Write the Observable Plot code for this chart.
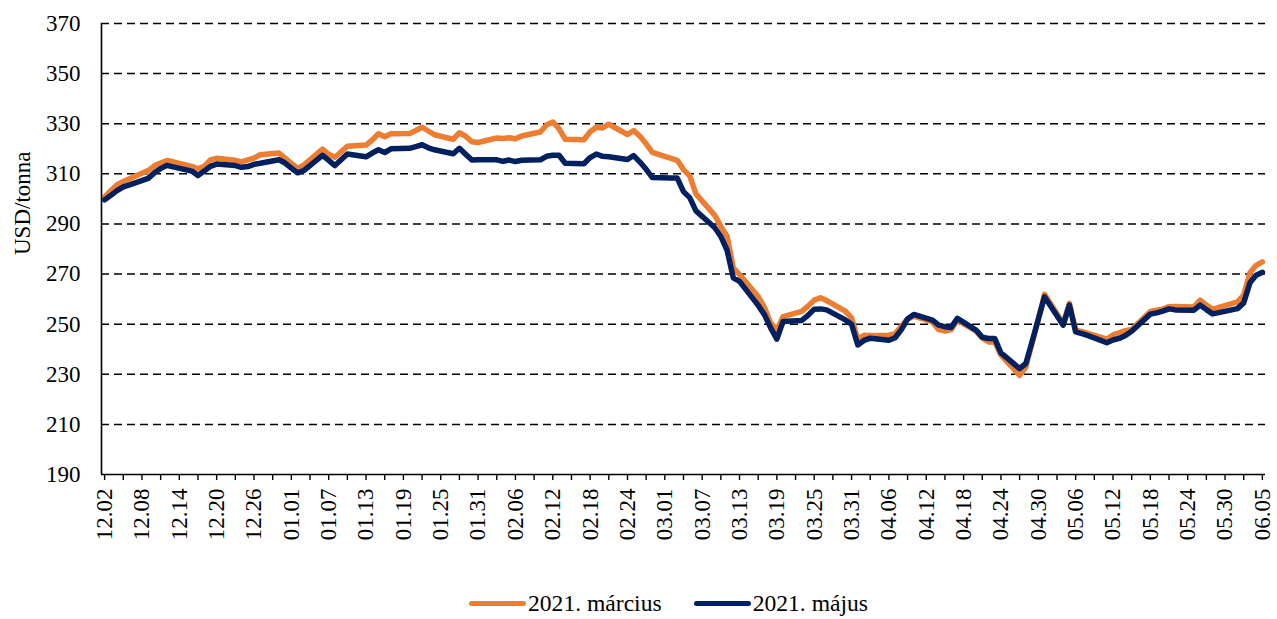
<!DOCTYPE html>
<html><head><meta charset="utf-8">
<script src="https://cdn.jsdelivr.net/npm/d3@7"></script>
<script src="https://cdn.jsdelivr.net/npm/@observablehq/plot@0.6"></script>
<style>
body{margin:0;background:#fff;font-family:"Liberation Serif","Times New Roman",serif;}
#legend{display:flex;justify-content:center;align-items:center;height:31px;font-size:23.6px;padding-left:60px;color:#000;}
.item{display:flex;align-items:center;margin:0 16px;}
.sw{width:57px;height:5px;border-radius:3px;margin-right:2px;}
</style></head><body>
<div id="chart"></div>
<div id="legend"></div>
<script>
const dates = [
"2019-12-02","2019-12-03","2019-12-04","2019-12-05","2019-12-06","2019-12-09","2019-12-10","2019-12-11","2019-12-12","2019-12-13",
"2019-12-16","2019-12-17","2019-12-18","2019-12-19","2019-12-20","2019-12-23","2019-12-24","2019-12-25","2019-12-26","2019-12-27",
"2019-12-30","2019-12-31",
"2020-01-01","2020-01-02","2020-01-03","2020-01-06","2020-01-07","2020-01-08","2020-01-09","2020-01-10","2020-01-13","2020-01-14",
"2020-01-15","2020-01-16","2020-01-17","2020-01-20","2020-01-21","2020-01-22","2020-01-23","2020-01-24","2020-01-27","2020-01-28",
"2020-01-29","2020-01-30","2020-01-31",
"2020-02-03","2020-02-04","2020-02-05","2020-02-06","2020-02-07","2020-02-10","2020-02-11","2020-02-12","2020-02-13","2020-02-14",
"2020-02-17","2020-02-18","2020-02-19","2020-02-20","2020-02-21","2020-02-24","2020-02-25","2020-02-26","2020-02-27","2020-02-28",
"2020-03-02","2020-03-03","2020-03-04","2020-03-05","2020-03-06","2020-03-09","2020-03-10","2020-03-11","2020-03-12","2020-03-13",
"2020-03-16","2020-03-17","2020-03-18","2020-03-19","2020-03-20","2020-03-23","2020-03-24","2020-03-25","2020-03-26","2020-03-27",
"2020-03-30","2020-03-31",
"2020-04-01","2020-04-02","2020-04-03","2020-04-06","2020-04-07","2020-04-08","2020-04-09","2020-04-10","2020-04-13","2020-04-14",
"2020-04-15","2020-04-16","2020-04-17","2020-04-20","2020-04-21","2020-04-22","2020-04-23","2020-04-24","2020-04-27","2020-04-28",
"2020-04-29","2020-04-30",
"2020-05-01","2020-05-04","2020-05-05","2020-05-06","2020-05-07","2020-05-08","2020-05-11","2020-05-12","2020-05-13","2020-05-14",
"2020-05-15","2020-05-18","2020-05-19","2020-05-20","2020-05-21","2020-05-22","2020-05-25","2020-05-26","2020-05-27","2020-05-28",
"2020-05-29",
"2020-06-01","2020-06-02","2020-06-03","2020-06-04","2020-06-05"
];
const marcius = [
300.8,303.3,305.7,306.9,308.0, 311.3,313.2,314.3,315.3,314.8, 313.0,312.0,313.0,315.6,316.2, 315.4,314.8,315.6,316.3,317.6, 318.3,316.3,
314.2,312.2,313.5, 319.9,317.8,316.6,318.8,321.0, 321.5,323.5,326.0,324.8,326.0, 326.1,327.3,328.6,327.1,325.6, 323.8,326.4,325.0,322.8,322.5,
324.3,324.1,324.4,324.0,325.1, 326.7,329.5,330.7,328.0,323.8, 323.6,326.8,328.6,328.3,329.8, 325.7,327.3,325.0,322.0,318.6,
316.2,315.4,311.7,309.2,302.0, 293.5,289.0,285.1,272.5,269.8, 261.0,256.7,250.5,247.7,253.0, 255.1,257.2,259.6,260.5,259.4, 255.2,252.5,
244.0,245.6,245.5, 245.6,246.2,249.2,252.1,253.2, 250.9,247.8,247.3,247.8,251.6, 247.2,244.4,242.9,242.9,237.6, 229.6,233.0,242.5,252.0,
261.9, 250.3,258.3,247.6,247.0,246.3, 244.0,245.7,246.5,247.4,247.9, 255.1,255.6,256.0,257.0,257.1, 256.9,259.6,257.6,255.9,256.7,
258.9,261.6,270.5,273.5,274.9
];
const majus = [
299.6,301.4,303.3,304.8,305.6, 308.2,310.4,312.1,313.4,312.8, 311.1,309.3,311.1,313.0,313.9, 313.3,312.6,312.9,313.8,314.2, 315.6,314.3,
312.3,310.4,311.3, 317.4,315.4,313.3,315.6,317.9, 316.8,318.3,319.6,318.5,320.0, 320.2,320.9,321.6,320.4,319.6, 318.0,320.2,317.8,315.5,315.6,
315.6,315.0,315.5,314.9,315.4, 315.6,317.0,317.4,317.4,314.2, 314.0,316.5,317.9,317.0,316.8, 315.7,317.3,314.7,311.8,308.5,
308.3,308.3,302.9,300.5,295.2, 288.6,285.0,279.5,268.5,267.1, 257.5,253.8,248.5,244.0,251.1, 251.5,253.5,256.0,256.1,255.7, 251.7,250.0,
241.7,243.5,244.4, 243.6,244.6,247.8,252.1,253.9, 251.6,249.6,249.0,248.7,252.3, 247.6,244.8,244.3,244.3,238.5, 232.3,234.3,243.0,252.0,
260.9, 249.6,257.6,246.9,246.2,245.4, 242.6,243.7,244.3,245.5,247.2, 254.0,254.5,255.2,256.1,255.7, 255.6,257.6,255.8,254.1,254.6,
256.2,258.5,266.5,269.5,270.7
];
const tickLabels = ["12.02","12.08","12.14","12.20","12.26","01.01","01.07","01.13","01.19","01.25","01.31","02.06","02.12","02.18","02.24","03.01",
"03.07","03.13","03.19","03.25","03.31","04.06","04.12","04.18","04.24","04.30","05.06","05.12","05.18","05.24","05.30","06.05"];
const yTicks = [190,210,230,250,270,290,310,330,350,370];
const seriesNames = ["2021. március","2021. május"];
const colors = ["#ED7D31","#002060"];

const parse = d3.utcParse("%Y-%m-%d");
const rows = [];
dates.forEach((d,i)=>{
  rows.push({date: parse(d), v: marcius[i], s: seriesNames[0]});
  rows.push({date: parse(d), v: majus[i], s: seriesNames[1]});
});
const labelDates = tickLabels.map(t => {
  const [m, dd] = t.split(".").map(Number);
  return new Date(Date.UTC(m === 12 ? 2019 : 2020, m - 1, dd));
});
const first = parse(dates[0]), last = parse(dates[dates.length-1]);
const x0 = d3.utcHour.offset(first, -12), x1 = d3.utcHour.offset(last, 12);
const tickDates = d3.utcDay.range(x0, d3.utcHour.offset(x1, 1), 3);

const chart = Plot.plot({
  width: 1277, height: 588,
  marginLeft: 101, marginRight: 12, marginTop: 23, marginBottom: 114,
  style: {fontFamily: '"Liberation Serif","Times New Roman",serif', fontSize: "23px", color: "#000", background: "#fff", overflow: "visible"},
  x: {type: "utc", domain: [x0, x1]},
  y: {domain: [190, 370]},
  marks: [
    Plot.ruleY(yTicks.filter(v => v > 190), {stroke: "#000", strokeWidth: 1.5, strokeDasharray: "8,5"}),
    Plot.line(rows.filter(r => r.s === seriesNames[0]), {x: "date", y: "v", stroke: colors[0], strokeWidth: 5.5, strokeLinejoin: "round", strokeLinecap: "round"}),
    Plot.line(rows.filter(r => r.s === seriesNames[1]), {x: "date", y: "v", stroke: colors[1], strokeWidth: 5.5, strokeLinejoin: "round", strokeLinecap: "round"}),
    Plot.ruleY([190], {stroke: "#000", strokeWidth: 1.6}),
    Plot.ruleX([x0], {stroke: "#000", strokeWidth: 1.6}),
    Plot.axisY({ticks: yTicks, tickSize: 0, tickPadding: 21, fontSize: 23, label: null, tickFormat: d => String(d)}),
    Plot.axisX({ticks: tickDates, tickSize: 6, tickFormat: () => "", label: null, strokeWidth: 1.4}),
    Plot.axisX({ticks: labelDates, tickSize: 0, tickRotate: -90, tickPadding: 14, fontSize: 23, label: null, tickFormat: (d, i) => tickLabels[i]}),
    Plot.text(["USD/tonna"], {frameAnchor: "left", dx: -79, dy: 6, rotate: -90, fontSize: 23, fill: "#000"})
  ]
});
document.getElementById("chart").appendChild(chart);

const leg = document.getElementById("legend");
seriesNames.forEach((n,i)=>{
  const it = document.createElement("div"); it.className = "item";
  const sw = document.createElement("div"); sw.className = "sw"; sw.style.background = colors[i];
  const tx = document.createElement("span"); tx.textContent = n;
  it.appendChild(sw); it.appendChild(tx); leg.appendChild(it);
});
</script>
</body></html>
